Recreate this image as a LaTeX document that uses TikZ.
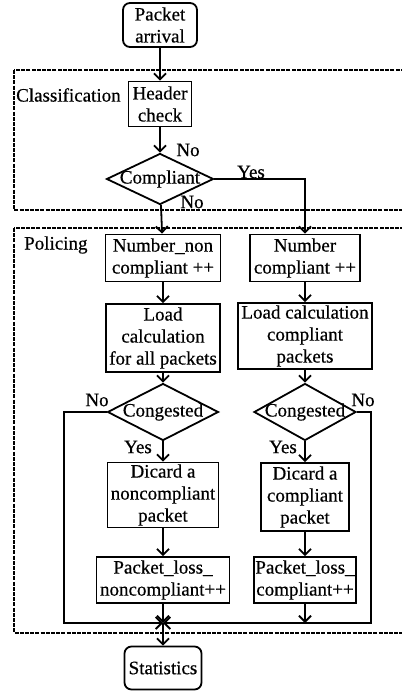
\documentclass[tikz,border=0pt]{standalone}
\usepackage{fontspec}
\setmainfont{Liberation Serif}[FakeBold=0.5]
\usetikzlibrary{shapes.geometric,arrows.meta}
\tikzset{
  box/.style={draw, line width=1.8pt, align=center, inner sep=1pt},
  rbox/.style={box, rounded corners=7pt},
  decision/.style={draw, diamond, line width=1.8pt, inner sep=0pt},
  region/.style={draw, line width=1.3pt, dash pattern=on 4pt off 1.2pt},
  flow/.style={line width=1.8pt, -{Straight Barb[length=6pt,width=12pt,line width=1.8pt]}},
  lbl/.style={inner sep=1pt},
}
\begin{document}
\begin{tikzpicture}[x=1pt, y=-1pt, font=\fontsize{19}{22}\selectfont]
        \useasboundingbox (0,0) rectangle (401,692);
        \draw[region] (14,70) rectangle (410,210);
        \draw[region] (14,228) rectangle (410,633);
        \node[lbl, anchor=west] (classlbl) at (15,95) {Classification};
        \node[lbl, anchor=west] (polilbl) at (23,245) {Policing};

        \node[rbox, minimum width=74pt, minimum height=44pt] (arrival) at (160,25) {Packet\\arrival};
        \node[box, minimum width=63pt, minimum height=45pt] (header) at (160,104) {Header\\check};
        \node[decision, minimum width=107pt, minimum height=51pt] (compliant) at (160,179) {\makebox[0pt]{Compliant}};

        \node[box, minimum width=115pt, minimum height=47pt] (numnon) at (163,258) {Number\_non\\compliant ++};
        \node[box, minimum width=110pt, minimum height=47pt] (numcomp) at (305,258) {Number\\compliant ++};
        \node[box, minimum width=114pt, minimum height=68pt] (loadall) at (163,338) {Load\\calculation\\for all packets};
        \node[box, minimum width=134pt, minimum height=66pt] (loadcomp) at (305,336) {Load calculation\\compliant\\packets};
        \node[decision, minimum width=111pt, minimum height=57pt] (congl) at (163,412) {\makebox[0pt]{Congested}};
        \node[decision, minimum width=102pt, minimum height=57pt] (congr) at (305,412) {\makebox[0pt]{Congested}};
        \node[box, minimum width=111pt, minimum height=65pt] (discnc) at (163,495) {Dicard a\\noncompliant\\packet};
        \node[box, minimum width=88pt, minimum height=68pt] (discc) at (305,497) {Dicard a\\compliant\\packet};
        \node[box, minimum width=133pt, minimum height=46pt] (lossnc) at (163,580) {Packet\_loss\_\\noncompliant++};
        \node[box, minimum width=101pt, minimum height=46pt] (lossc) at (305,580) {Packet\_loss\_\\compliant++};
        \node[rbox, minimum width=77pt, minimum height=43pt] (stats) at (163,668) {Statistics};

        \coordinate (merge) at (163,623);
        \coordinate (leftc) at (64,623);
        \coordinate (rightc) at (371,623);

        \draw[flow] (arrival) -- (header);
        \draw[flow] (header) -- (compliant);
        \draw[flow] (compliant) -- (numnon);
        \draw[flow] (compliant.east) -| (numcomp);
        \draw[flow] (numnon) -- (loadall);
        \draw[flow] (numcomp) -- (loadcomp);
        \draw[flow] (loadall) -- (congl);
        \draw[flow] (loadcomp) -- (congr);
        \draw[flow] (congl) -- (discnc);
        \draw[flow] (congr) -- (discc);
        \draw[flow] (discnc) -- (lossnc);
        \draw[flow] (discc) -- (lossc);
        \draw[flow] (congl.west) -| (leftc) -- (merge);
        \draw[flow] (congr.east) -| (rightc) -- (merge);
        \draw[flow] (lossc) -- (lossc |- merge);
        \draw[flow] (lossnc) -- (merge);
        \draw[flow] (merge) -- (stats);

        \node[lbl] (no1) at (188,150) {No};
        \node[lbl] (no2) at (192,202) {No};
        \node[lbl] (yes1) at (251,172) {Yes};
        \node[lbl] (no3) at (97,400) {No};
        \node[lbl] (no4) at (363,400) {No};
        \node[lbl] (yes2) at (138,447) {Yes};
        \node[lbl] (yes3) at (283,447) {Yes};
\end{tikzpicture}
\end{document}
